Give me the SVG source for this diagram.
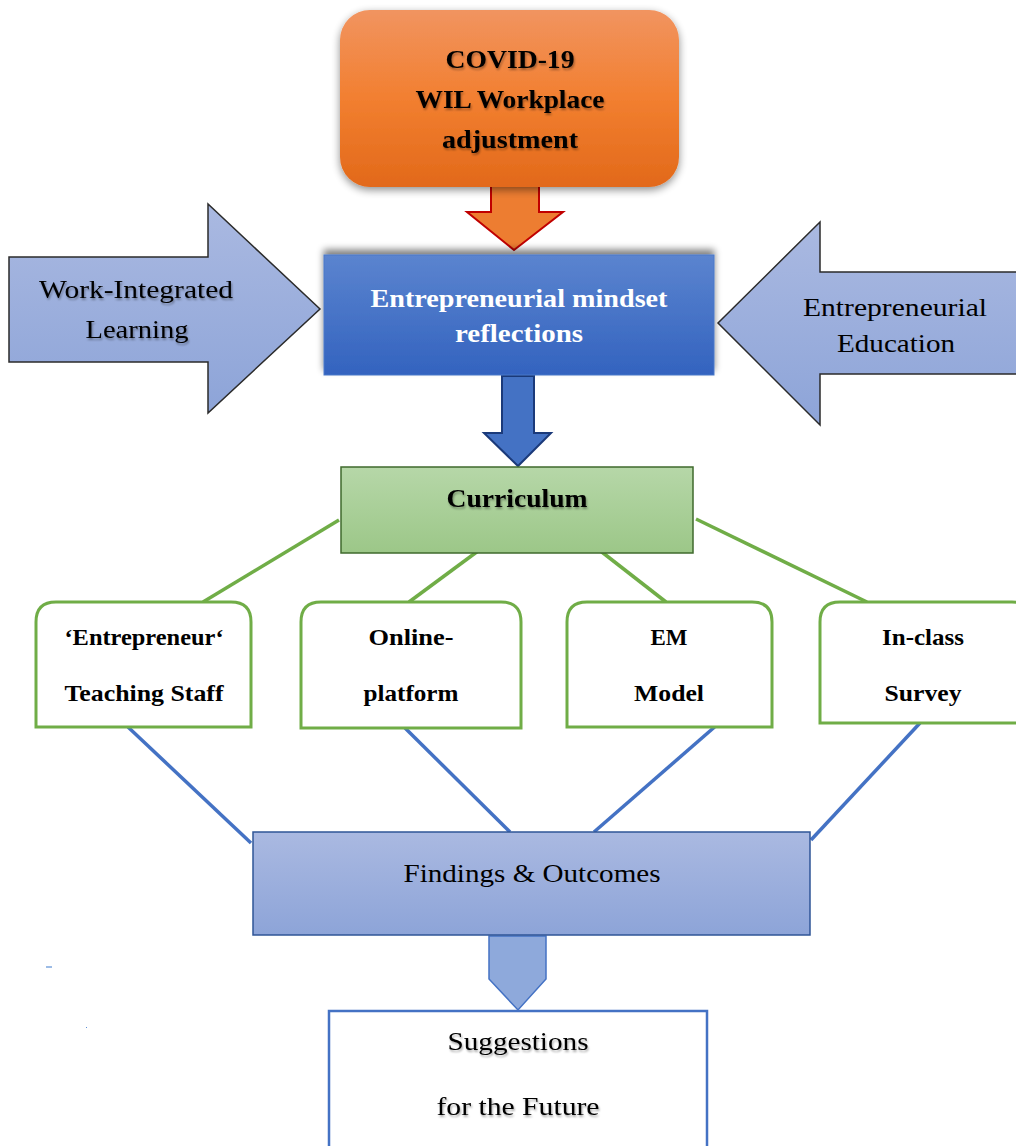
<svg xmlns="http://www.w3.org/2000/svg" width="1016" height="1146" viewBox="0 0 1016 1146">
<style>
.serif{font-family:"Liberation Serif","DejaVu Serif",serif;}
.b{font-weight:bold;}
.t26{font-size:26px;}
.t24{font-size:24px;}
.shd{filter:url(#tshadow);}
.green{stroke:#70AD47;stroke-width:3.5;fill:none;}
.blue{stroke:#4472C4;stroke-width:3.5;fill:none;}
.gbox{fill:#FFFFFF;stroke:#70AD47;stroke-width:3;}
.mid{text-anchor:middle;}
</style>
<defs>
<linearGradient id="gOrange" x1="0" y1="0" x2="0" y2="1">
<stop offset="0" stop-color="#F19460"/>
<stop offset="0.5" stop-color="#F27F30"/>
<stop offset="1" stop-color="#E2691A"/>
</linearGradient>
<linearGradient id="gBlue" x1="0" y1="0" x2="0" y2="1">
<stop offset="0" stop-color="#5B84CF"/>
<stop offset="1" stop-color="#3363BF"/>
</linearGradient>
<linearGradient id="gLav" x1="0" y1="0" x2="0" y2="1">
<stop offset="0" stop-color="#AAB9E1"/>
<stop offset="1" stop-color="#8DA4D8"/>
</linearGradient>
<linearGradient id="gGreen" x1="0" y1="0" x2="0" y2="1">
<stop offset="0" stop-color="#B6D7A8"/>
<stop offset="1" stop-color="#9CC788"/>
</linearGradient>
<filter id="dshadow" x="-10%" y="-10%" width="120%" height="130%">
<feGaussianBlur in="SourceAlpha" stdDeviation="4"/>
<feOffset dx="0" dy="3" result="o"/>
<feComponentTransfer><feFuncA type="linear" slope="0.45"/></feComponentTransfer>
<feMerge><feMergeNode/><feMergeNode in="SourceGraphic"/></feMerge>
</filter>
<filter id="upshadow" x="-10%" y="-20%" width="120%" height="140%">
<feGaussianBlur in="SourceAlpha" stdDeviation="3.5"/>
<feOffset dx="0" dy="-5" result="o"/>
<feComponentTransfer><feFuncA type="linear" slope="0.5"/></feComponentTransfer>
<feMerge><feMergeNode/><feMergeNode in="SourceGraphic"/></feMerge>
</filter>
<filter id="tshadow" x="-5%" y="-20%" width="110%" height="150%">
<feGaussianBlur in="SourceAlpha" stdDeviation="1.2"/>
<feOffset dx="1" dy="1.5" result="o"/>
<feComponentTransfer><feFuncA type="linear" slope="0.35"/></feComponentTransfer>
<feMerge><feMergeNode/><feMergeNode in="SourceGraphic"/></feMerge>
</filter>
</defs>

<g id="connectors">
<line class="green" x1="339" y1="520" x2="203" y2="602"/>
<line class="green" x1="478" y1="551" x2="409" y2="602"/>
<line class="green" x1="598" y1="549" x2="666" y2="602"/>
<line class="green" x1="696" y1="519" x2="867" y2="602"/>
<line class="blue" x1="128" y1="727" x2="251" y2="843"/>
<line class="blue" x1="402" y1="725" x2="510" y2="832"/>
<line class="blue" x1="718" y1="724" x2="594" y2="832"/>
<line class="blue" x1="920" y1="723" x2="811" y2="840"/>
<polygon id="arrow-covid" points="491,179 539,179 539,212 563,212 514,250 467,212 491,212" fill="#ED7D31" stroke="#C00000" stroke-width="2"/>
<polygon id="arrow-em" points="502,376 534,376 534,433 551,433 518,466 484,433 502,433" fill="#4472C4" stroke="#1B3A7A" stroke-width="2"/>
<polygon id="arrow-findings" points="489,936 546,936 546,979 518,1010 489,979" fill="#8EA9DB" stroke="#4472C4" stroke-width="1.5"/>
</g>

<g id="covid">
<rect x="340" y="10" width="339" height="177" rx="30" ry="30" fill="url(#gOrange)" filter="url(#dshadow)"/>
<text class="serif b t26 mid shd" x="510" y="68" textLength="129" lengthAdjust="spacingAndGlyphs">COVID-19</text>
<text class="serif b t26 mid shd" x="510" y="108" textLength="189" lengthAdjust="spacingAndGlyphs">WIL Workplace</text>
<text class="serif b t26 mid shd" x="510" y="148" textLength="136" lengthAdjust="spacingAndGlyphs">adjustment</text>
</g>

<g id="wil">
<polygon points="9,257 208,257 208,204 320,309 208,413 208,362 9,362" fill="url(#gLav)" stroke="#2B2B2B" stroke-width="1.5"/>
<text class="serif t26 mid shd" x="136" y="298" textLength="194" lengthAdjust="spacingAndGlyphs">Work-Integrated</text>
<text class="serif t26 mid shd" x="137" y="338" textLength="103" lengthAdjust="spacingAndGlyphs">Learning</text>
</g>

<g id="edu">
<polygon points="1020,272 820,272 820,222 718,323 820,425 820,374 1020,374" fill="url(#gLav)" stroke="#2B2B2B" stroke-width="1.5"/>
<text class="serif t26 mid" x="895" y="316" textLength="184" lengthAdjust="spacingAndGlyphs">Entrepreneurial</text>
<text class="serif t26 mid" x="896" y="352" textLength="118" lengthAdjust="spacingAndGlyphs">Education</text>
</g>

<g id="mindset">
<rect x="324" y="255" width="390" height="120" fill="url(#gBlue)" stroke="#4A78C8" stroke-width="1" filter="url(#upshadow)"/>
<text class="serif b t26 mid" x="519" y="307" fill="#FFFFFF" textLength="297" lengthAdjust="spacingAndGlyphs">Entrepreneurial mindset</text>
<text class="serif b t26 mid" x="519" y="342" fill="#FFFFFF" textLength="128" lengthAdjust="spacingAndGlyphs">reflections</text>
</g>

<g id="curriculum">
<rect x="341" y="467" width="352" height="86" fill="url(#gGreen)" stroke="#3F6A2C" stroke-width="1.5"/>
<text class="serif b t26 mid shd" x="517" y="507" textLength="141" lengthAdjust="spacingAndGlyphs">Curriculum</text>
</g>

<g id="staff">
<path class="gbox" d="M36,727 V622 Q36,602 56,602 H231 Q251,602 251,622 V727 Z"/>
<text class="serif b t24 mid" x="144" y="645" textLength="159" lengthAdjust="spacingAndGlyphs">‘Entrepreneur‘</text>
<text class="serif b t24 mid" x="144" y="701" textLength="159" lengthAdjust="spacingAndGlyphs">Teaching Staff</text>
</g>

<g id="online">
<path class="gbox" d="M301,728 V622 Q301,602 321,602 H501 Q521,602 521,622 V728 Z"/>
<text class="serif b t24 mid" x="411" y="645" textLength="85" lengthAdjust="spacingAndGlyphs">Online-</text>
<text class="serif b t24 mid" x="411" y="701" textLength="95" lengthAdjust="spacingAndGlyphs">platform</text>
</g>

<g id="em">
<path class="gbox" d="M567,727 V622 Q567,602 587,602 H752 Q772,602 772,622 V727 Z"/>
<text class="serif b t24 mid" x="669" y="645" textLength="37" lengthAdjust="spacingAndGlyphs">EM</text>
<text class="serif b t24 mid" x="669" y="701" textLength="70" lengthAdjust="spacingAndGlyphs">Model</text>
</g>

<g id="survey">
<path class="gbox" d="M820,723 V622 Q820,602 840,602 H1012 Q1032,602 1032,622 V723 Z"/>
<text class="serif b t24 mid" x="923" y="645" textLength="82" lengthAdjust="spacingAndGlyphs">In-class</text>
<text class="serif b t24 mid" x="923" y="701" textLength="77" lengthAdjust="spacingAndGlyphs">Survey</text>
</g>

<g id="findings">
<rect x="253" y="832" width="557" height="103" fill="url(#gLav)" stroke="#2F5597" stroke-width="1.5"/>
<text class="serif t26 mid" x="532" y="882" textLength="257" lengthAdjust="spacingAndGlyphs">Findings &amp; Outcomes</text>
</g>

<g id="suggestions">
<rect x="329" y="1011" width="378" height="150" fill="#FFFFFF" stroke="#4472C4" stroke-width="2.5"/>
<text class="serif t26 mid shd" x="518" y="1050" textLength="141" lengthAdjust="spacingAndGlyphs">Suggestions</text>
<text class="serif t26 mid shd" x="518" y="1115" textLength="163" lengthAdjust="spacingAndGlyphs">for the Future</text>
</g>

<g id="marks">
<line x1="46" y1="967" x2="52" y2="967" stroke="#5B8FD6" stroke-width="1.2"/>
<line x1="86" y1="1028" x2="87" y2="1027" stroke="#5B8FD6" stroke-width="1"/>
</g>
</svg>
